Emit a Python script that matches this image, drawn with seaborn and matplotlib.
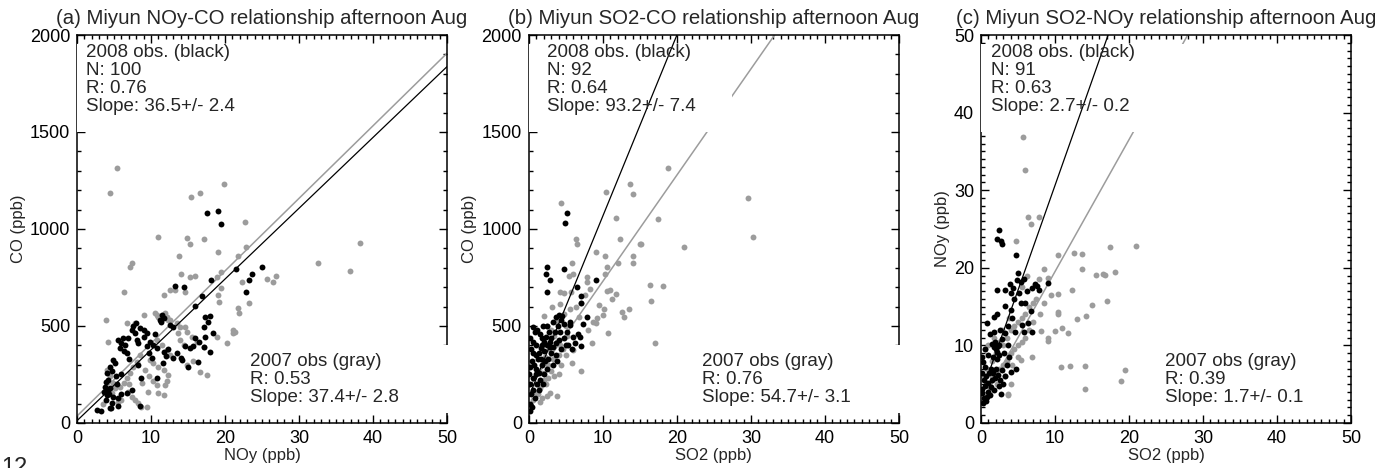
import numpy as np
import pandas as pd
import seaborn as sns
import matplotlib.pyplot as plt
from matplotlib.patches import Rectangle
from matplotlib.ticker import MultipleLocator

# ---- panel (a): NOy (x) vs CO (y) ----
a08_x = [17.5, 19.0, 19.4, 13.2, 14.4, 18.1, 16.9, 16.0, 11.5, 11.4, 12.9,
         17.3, 18.0, 17.7, 17.1, 18.4, 17.3, 18.0, 17.1, 16.5,
         14.6, 15.7, 15.3, 13.0, 14.1, 14.2, 16.3, 15.0, 11.7, 11.6,
         21.5, 25.0, 23.6, 23.3, 22.9,
         6.9, 7.4, 7.8, 8.5, 9.0, 9.0, 9.4, 8.1, 7.6, 8.3,
         5.6, 6.0, 6.5, 5.8, 6.7, 6.3,
         4.9, 5.1, 4.5, 4.0, 4.2, 5.2, 4.7,
         3.8, 4.2, 3.6, 4.0, 4.9, 5.6, 4.7, 3.9,
         2.7, 3.3, 4.5, 5.6, 8.5, 4.6,
         9.9, 10.3, 10.8, 9.7, 10.1, 11.2, 11.7, 12.6,
         10.8, 8.3, 8.7, 6.7, 7.4, 6.0,
         12.3, 13.5, 9.5, 7.0, 5.4, 4.4, 3.9, 5.9, 7.9, 10.5, 6.2, 12.0, 16.0, 4.3]
a08_y = [1081, 1095, 1025, 706, 699, 737, 655, 603, 557, 522, 497,
         548, 551, 522, 497, 462, 445, 368, 393, 416,
         397, 397, 388, 333, 333, 325, 316, 290, 368, 308,
         792, 806, 766, 737, 677,
         437, 479, 462, 488, 479, 445, 462, 428, 500, 413,
         428, 411, 402, 385, 359, 372,
         325, 308, 291, 257, 222, 240, 270,
         188, 171, 162, 145, 136, 128, 102, 120,
         69, 60, 77, 86, 86, 79,
         419, 402, 385, 359, 333, 530, 539, 505,
         230, 300, 230, 153, 170, 150,
         380, 360, 395, 330, 200, 180, 210, 250, 515, 460, 440, 345, 440, 150]
a07_x = [5.4, 4.5, 19.8, 15.4, 16.6, 10.9, 14.8, 15.3, 17.2, 19.0, 13.8, 7.4, 7.2,
         14.1, 15.3, 16.0, 19.4, 18.9, 6.4, 11.7, 12.6, 13.2, 14.6, 19.5, 19.1, 19.2,
         3.9, 4.2, 6.7, 7.8, 9.0, 10.5, 11.0, 11.9, 12.3, 13.5, 14.6, 13.7, 21.1, 20.2,
         22.7, 22.8, 21.8, 32.6, 38.2, 36.9, 25.7, 26.5, 26.9, 22.3, 23.3, 21.8, 21.9, 21.4,
         10.8, 12.1, 12.6, 13.9, 14.8, 15.5, 16.2, 17.1, 10.8, 11.5, 12.1, 12.6,
         9.9, 10.3, 11.0, 11.7, 12.3, 8.5, 8.1, 7.6, 7.2, 6.7, 6.3, 5.8,
         9.2, 9.7, 10.3, 10.8, 11.0, 11.9, 12.1, 11.7, 6.9, 7.4, 7.8, 8.3, 8.7, 9.4,
         4.9, 5.1, 4.7, 4.0, 4.5, 14.8, 15.7, 16.6, 17.5, 13.9, 14.4, 18.9, 21.1,
         8.8, 9.6, 3.5, 5.5, 6.0, 7.0]
a07_y = [1313, 1184, 1232, 1163, 1187, 960, 952, 922, 948, 883, 862, 823, 806,
         768, 751, 759, 780, 754, 677, 660, 686, 686, 677, 694, 660, 625,
         531, 419, 517, 514, 557, 569, 548, 565, 531, 514, 497, 462, 466, 411,
         1038, 909, 861, 826, 926, 786, 741, 728, 758, 728, 617, 591, 569, 467,
         557, 548, 531, 496, 470, 445, 419, 393, 428, 402, 376, 350,
         325, 308, 291, 274, 248, 350, 316, 291, 257, 231, 205, 188,
         274, 240, 214, 197, 154, 197, 214, 145, 162, 136, 119, 102, 84, 84,
         205, 179, 153, 274, 240, 300, 317, 265, 248, 428, 402, 445, 479,
         205, 160, 100, 110, 120, 200]

# ---- panel (b): SO2 (x) vs CO (y) ----
b08_x = [5.2, 4.9, 2.4, 2.3, 2.9, 2.4, 4.8, 6.5, 9.0, 7.0, 7.1, 7.8, 7.3, 6.9, 7.0, 0.6,
         3.3, 3.6, 4.0, 4.3, 4.7, 3.9, 4.5,
         1.5, 1.8, 2.1, 2.4, 1.6, 2.0, 2.3, 1.7, 1.4,
         5.6, 6.0, 5.1, 5.5,
         2.6, 3.0, 3.3, 3.7, 4.1, 4.4, 3.6, 2.8, 5.0, 3.2,
         0.1, 0.2, 0.4, 0.3, 0.6, 0.8, 0.2, 0.5, 0.9, 1.1, 1.3, 1.0, 0.7, 0.4, 0.1,
         1.4, 1.2, 0.9, 0.3, 0.6, 0.0, 0.2,
         1.7, 2.0, 1.9, 1.5, 2.2, 2.5,
         1.1, 1.9, 2.7, 3.0, 3.5, 2.5, 4.2, 4.8, 5.3, 5.8, 6.2, 6.6, 1.0, 1.6, 0.5, 0.8, 2.9, 3.8]
b08_y = [1081, 1029, 802, 766, 737, 677, 792, 702, 737, 655, 617, 548, 510, 445, 398, 497,
         520, 545, 555, 530, 510, 500, 550,
         460, 440, 420, 400, 385, 370, 445, 400, 360,
         505, 445, 470, 520,
         330, 360, 390, 410, 430, 380, 350, 420, 400, 300,
         60, 100, 80, 150, 170, 130, 200, 230, 250, 200, 170, 280, 300, 320, 290,
         260, 330, 350, 380, 420, 250, 440,
         300, 250, 200, 220, 320, 280,
         480, 500, 470, 440, 470, 500, 470, 440, 400, 380, 410, 460, 400, 330, 360, 470, 390, 320]
b07_x = [4.4, 10.4, 13.7, 14.1, 11.8, 12.3, 6.4, 6.5, 15.0, 9.0, 10.3, 14.1, 5.8, 10.5,
         12.1, 14.1, 5.4, 6.0, 7.8, 7.9, 10.3, 4.2, 4.7, 5.7, 10.5, 10.9, 11.8, 12.6,
         12.9, 13.5, 9.2, 10.0, 9.1, 10.7, 8.5, 6.0, 5.8, 7.1, 3.1, 4.2, 2.9, 3.8, 1.5,
         18.8, 29.6, 30.3, 17.4, 15.1, 20.9, 16.4, 18.1, 16.5, 17.1,
         2.0, 2.4, 3.0, 3.4, 3.8, 4.2, 4.6, 2.2, 2.6, 3.0, 3.4, 1.8, 2.0, 2.3, 1.5, 1.2,
         2.6, 3.3, 4.0, 5.2, 5.0, 4.4, 1.0, 0.7, 0.5, 1.9, 2.7, 3.6, 4.8, 5.5, 6.3, 7.0,
         7.6, 8.3, 9.5, 8.7, 8.0, 10.2, 11.2, 6.8, 5.0, 4.0, 2.4, 1.8]
b07_y = [1132, 1189, 1232, 1180, 1055, 946, 946, 922, 922, 883, 861, 861, 827, 806,
         826, 823, 760, 768, 751, 725, 766, 677, 672, 677, 680, 686, 665, 570,
         548, 587, 541, 557, 516, 466, 411, 376, 311, 268, 598, 615, 153, 139, 110,
         1312, 1162, 961, 1051, 921, 909, 709, 704, 631, 411,
         550, 500, 480, 450, 420, 400, 380, 340, 300, 270, 240, 260, 220, 200, 180, 150,
         230, 330, 350, 450, 350, 300, 200, 160, 120, 310, 380, 520, 560, 590, 600, 620,
         660, 690, 610, 520, 480, 590, 640, 545, 500, 250, 140, 130]

# ---- panel (c): SO2 (x) vs NOy (y) ----
c08_x = [2.5, 2.2, 2.7, 2.8, 4.8, 9.0, 7.3, 7.6, 7.8, 6.9, 5.0, 4.9, 3.9, 3.3, 2.2, 4.0, 4.3, 5.4,
         3.3, 4.0, 5.4, 6.7, 6.0, 2.2, 1.8, 0.8, 6.3, 5.6, 6.9, 5.8, 4.6, 3.3, 1.8,
         1.5, 1.8, 2.0, 2.2, 2.4, 1.6, 2.1, 2.5, 1.9, 2.3,
         3.8, 4.7, 4.0, 3.3, 2.7,
         0.1, 0.3, 0.5, 0.2, 0.7, 0.4, 1.0, 0.6, 0.2, 0.9, 1.2, 0.4, 0.7, 1.4, 1.1, 1.3, 0.8, 0.1, 0.3, 1.5,
         1.6, 2.0, 2.3, 2.6, 3.0, 2.8, 3.5, 1.9, 2.4, 1.7, 3.1, 2.9, 3.6, 4.2, 2.6, 1.2,
         4.5, 5.2, 6.2, 5.8, 0.5, 1.0, 3.7]
c08_y = [24.9, 23.7, 23.4, 23.1, 21.6, 18.1, 17.9, 17.6, 17.1, 17.4, 19.3, 18.4, 17.9, 17.2, 17.1, 16.7, 17.4, 18.2,
         15.1, 14.6, 15.4, 14.4, 15.5, 14.1, 13.7, 12.9, 12.9, 12.6, 11.7, 11.7, 11.7, 11.6, 11.7,
         10.2, 9.8, 9.5, 9.1, 8.8, 8.5, 8.2, 10.0, 10.4, 9.9,
         8.5, 7.0, 6.6, 6.0, 3.7,
         8.5, 7.8, 7.2, 6.5, 6.0, 5.5, 5.2, 4.8, 4.4, 4.0, 3.6, 3.2, 2.8, 4.6, 6.4, 7.0, 3.3, 3.8, 2.6, 5.5,
         6.5, 7.0, 6.2, 5.5, 5.0, 6.8, 7.5, 5.8, 4.8, 4.2, 9.0, 10.8, 12.5, 13.5, 12.0, 11.5,
         16.0, 16.8, 17.0, 18.5, 9.5, 8.8, 10.0]
c07_x = [5.7, 5.9, 6.3, 6.8, 7.8, 4.7, 10.4, 12.6, 13.6, 8.5, 9.0, 7.8, 13.7, 12.3, 10.4,
         15.0, 10.4, 10.4, 13.0, 14.2, 8.1, 10.0, 11.0, 11.8, 9.0, 9.1, 10.8, 12.1, 14.1,
         14.1, 3.7, 6.9, 5.4,
         17.4, 20.9, 15.6, 16.5, 16.8, 18.1, 17.1, 19.5, 18.9,
         1.0, 1.5, 2.0, 2.5, 3.0, 3.5, 4.0, 4.5, 5.0, 5.5, 6.0, 3.0, 3.5, 4.0, 4.5, 5.0,
         5.5, 6.0, 6.5, 7.0, 7.5, 2.0, 2.5, 1.5, 0.8, 0.5, 0.3, 1.2, 2.2, 3.2, 4.2, 5.0,
         6.5, 7.0, 8.0, 8.5, 9.5, 6.2, 5.6, 3.8, 2.8, 1.8, 1.0, 4.0, 3.6]
c07_y = [36.9, 32.6, 26.5, 25.7, 26.6, 23.4, 21.6, 21.9, 21.8, 19.9, 18.7, 18.5, 19.8, 17.1, 16.6,
         15.2, 14.3, 14.1, 13.4, 13.8, 11.8, 11.8, 12.2, 11.6, 10.9, 10.6, 7.2, 7.4, 7.3,
         4.4, 3.7, 8.5, 8.1,
         22.7, 22.8, 19.1, 19.2, 19.1, 19.4, 15.7, 6.8, 5.4,
         5.0, 6.0, 6.5, 7.0, 7.5, 8.0, 9.0, 9.5, 10.0, 10.5, 11.0, 10.0, 11.0, 12.0, 12.5, 13.0,
         13.5, 14.0, 15.0, 15.5, 16.0, 9.0, 10.5, 8.0, 7.0, 9.5, 6.0, 4.5, 5.0, 6.0, 7.5, 8.5,
         12.0, 13.0, 14.0, 15.5, 16.5, 19.0, 17.5, 13.5, 12.0, 11.0, 10.0, 5.0, 3.6]

titles = ["(a) Miyun NOy-CO relationship afternoon Aug",
          "(b) Miyun SO2-CO relationship afternoon Aug",
          "(c) Miyun SO2-NOy relationship afternoon Aug"]
xlabels = ["NOy (ppb)", "SO2 (ppb)", "SO2 (ppb)"]
ylabels = ["CO (ppb)", "CO (ppb)", "NOy (ppb)"]
text08 = ["2008 obs. (black)\nN: 100\nR: 0.76\nSlope: 36.5+/- 2.4",
          "2008 obs. (black)\nN: 92\nR: 0.64\nSlope: 93.2+/- 7.4",
          "2008 obs. (black)\nN: 91\nR: 0.63\nSlope: 2.7+/- 0.2"]
text07 = ["2007 obs (gray)\nR: 0.53\nSlope: 37.4+/- 2.8",
          "2007 obs (gray)\nR: 0.76\nSlope: 54.7+/- 3.1",
          "2007 obs (gray)\nR: 0.39\nSlope: 1.7+/- 0.1"]
# fitted lines: slope, intercept
fit08 = [(36.5, 12), (93.2, 136), (2.7, 3.6)]
fit07 = [(37.4, 36), (54.7, 184), (1.7, 2.5)]
ymax = [2000, 2000, 50]
ymajor = [500, 500, 10]
yminor = [100, 100, 1]

data = [(a08_x, a08_y, a07_x, a07_y), (b08_x, b08_y, b07_x, b07_y), (c08_x, c08_y, c07_x, c07_y)]

sns.set_style("ticks")
plt.rcParams['font.family'] = ['Liberation Sans', 'DejaVu Sans']

fig = plt.figure(figsize=(13.96, 4.68), dpi=100)
lefts = [0.0552, 0.3789, 0.7027]
txt08_x = [0.024, 0.049, 0.027]
txt07_x = [0.468, 0.468, 0.497]
box_right = [1.02, 1.02, 0.97]
gray = "#9c9c9c"

for i in range(3):
    ax = fig.add_axes([lefts[i], 0.0962, 0.265, 0.829])
    x08, y08, x07, y07 = data[i]

    sns.scatterplot(x=x07, y=y07, color=gray, s=18, linewidth=0, ax=ax, zorder=2)
    xs = np.array([0, 50])
    sns.lineplot(x=xs, y=fit07[i][1] + fit07[i][0] * xs, color=gray, lw=1.1, ax=ax, zorder=2.1)
    sns.scatterplot(x=x08, y=y08, color="black", s=18, linewidth=0, ax=ax, zorder=2.2)
    sns.lineplot(x=xs, y=fit08[i][1] + fit08[i][0] * xs, color="black", lw=0.9, ax=ax, zorder=2.8)

    # white boxes behind the statistics text (they hide spine/lines there)
    ax.add_patch(Rectangle((0, 0.75), 0.55, 0.228, transform=ax.transAxes,
                           facecolor="white", edgecolor="none", zorder=2.6, clip_on=False))
    ax.add_patch(Rectangle((txt07_x[i] - 0.01, 0.025), box_right[i] - txt07_x[i] + 0.01, 0.175,
                           transform=ax.transAxes, facecolor="white", edgecolor="none",
                           zorder=2.6, clip_on=False))

    ax.text(txt08_x[i], 0.978, text08[i], transform=ax.transAxes, va="top", ha="left",
            fontsize=13.5, linespacing=1.08, zorder=3)
    ax.text(txt07_x[i], 0.055, text07[i], transform=ax.transAxes, va="baseline", ha="left",
            fontsize=13.5, linespacing=1.08, zorder=3)

    ax.set_xlim(0, 50)
    ax.set_ylim(0, ymax[i])
    ax.xaxis.set_major_locator(MultipleLocator(10))
    ax.xaxis.set_minor_locator(MultipleLocator(1))
    ax.yaxis.set_minor_locator(MultipleLocator(yminor[i]))
    yt = np.arange(0, ymax[i] + 1, ymajor[i])
    ax.set_yticks(yt)
    labs = ax.set_yticklabels([str(int(v)) for v in yt])
    for lab in labs[-2:]:
        lab.set_fontsize(9)
    ax.tick_params(which="both", direction="in", top=True, right=True, width=1.0,
                   labelsize=13, colors="black")
    ax.tick_params(which="major", length=6, pad=5)
    ax.tick_params(which="minor", length=3)
    for s in ax.spines.values():
        s.set_linewidth(1.1)
        s.set_color("black")

    ax.set_xlabel(xlabels[i], fontsize=12, labelpad=1)
    ax.set_ylabel(ylabels[i], fontsize=12, labelpad=3)
    ax.set_title(titles[i], fontsize=14.7, pad=8)

fig.text(0.001, -0.013, "12", fontsize=17, ha="left", va="baseline")

fig.savefig("out.png", dpi=100)
